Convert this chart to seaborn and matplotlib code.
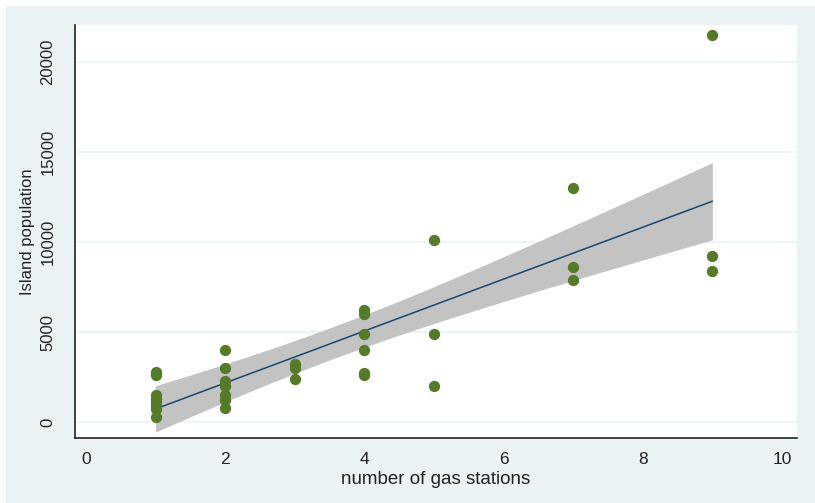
import numpy as np
import pandas as pd
import matplotlib
matplotlib.use("Agg")
import matplotlib.pyplot as plt
from matplotlib.patches import Rectangle
import seaborn as sns

# values
gas_stations = [1, 1, 1, 1, 1, 1, 1, 1,
                2, 2, 2, 2, 2, 2, 2,
                3, 3, 3,
                4, 4, 4, 4, 4, 4,
                5, 5, 5,
                7, 7, 7,
                9, 9, 9]
population = [2800, 2600, 1500, 1300, 1100, 900, 700, 300,
              4000, 3000, 2300, 2000, 1500, 1200, 800,
              3200, 3000, 2400,
              6200, 6000, 4900, 4000, 2700, 2600,
              10100, 4900, 2000,
              13000, 8600, 7900,
              21500, 9200, 8400]
x_ticks = [0, 2, 4, 6, 8, 10]
y_ticks = [0, 5000, 10000, 15000, 20000]

df = pd.DataFrame({"gas": gas_stations, "pop": population})

sns.set_style("white")
plt.rcParams["font.family"] = ["Liberation Sans", "DejaVu Sans"]

bg = "#eaf2f3"
fig = plt.figure(figsize=(8.15, 5.03), dpi=100)
fig.patch.set_facecolor("white")
# stata-like graph region
fig.add_artist(Rectangle((6 / 815, 0), 1, 1 - 6 / 503, transform=fig.transFigure,
                         facecolor=bg, edgecolor="none", zorder=-10))

ax = fig.add_axes([75 / 815, 65 / 503, 722 / 815, 413 / 503])
ax.set_facecolor("white")

# analytic 95% CI of the fitted mean (like stata lfitci), seaborn only bootstraps
x = df["gas"].to_numpy(float)
y = df["pop"].to_numpy(float)
n = len(x)
slope, intercept = np.polyfit(x, y, 1)
resid = y - (intercept + slope * x)
s = np.sqrt((resid ** 2).sum() / (n - 2))
sxx = ((x - x.mean()) ** 2).sum()
xg = np.linspace(x.min(), x.max(), 100)
se = s * np.sqrt(1 / n + (xg - x.mean()) ** 2 / sxx)
t_crit = 2.0395  # t(0.975, df=31)
fit = intercept + slope * xg
ax.fill_between(xg, fit - t_crit * se, fit + t_crit * se,
                color="#c3c3c3", lw=0, zorder=3)

sns.regplot(data=df, x="gas", y="pop", ax=ax, ci=None,
            color="#1a476f",
            scatter_kws={"color": "#557a28", "s": 66, "alpha": 1,
                         "linewidths": 0, "zorder": 5},
            line_kws={"lw": 1.1, "zorder": 4})

ax.set_xlim(-0.158, 10.216)
ax.set_ylim(-889, 22056)
ax.set_xticks(x_ticks)
ax.set_yticks(y_ticks)
ax.set_yticklabels([str(v) for v in y_ticks], rotation=90, va="center")
ax.tick_params(axis="both", direction="out", length=5, width=1, color="#333333",
               labelcolor="#222222")
ax.tick_params(axis="x", labelsize=12.5, pad=5)
ax.tick_params(axis="y", labelsize=12, pad=9)
ax.grid(axis="y", color=bg, lw=1.2, zorder=0)
ax.set_axisbelow(True)

for side in ["top", "right"]:
    ax.spines[side].set_visible(False)
for side in ["left", "bottom"]:
    ax.spines[side].set_color("#222222")
    ax.spines[side].set_linewidth(1.2)

ax.set_xlabel("number of gas stations", fontsize=13.5, color="#222222", labelpad=3)
ax.set_ylabel("Island population", fontsize=12, color="#222222", labelpad=4)

fig.savefig("out.png", dpi=100, facecolor=fig.get_facecolor())
